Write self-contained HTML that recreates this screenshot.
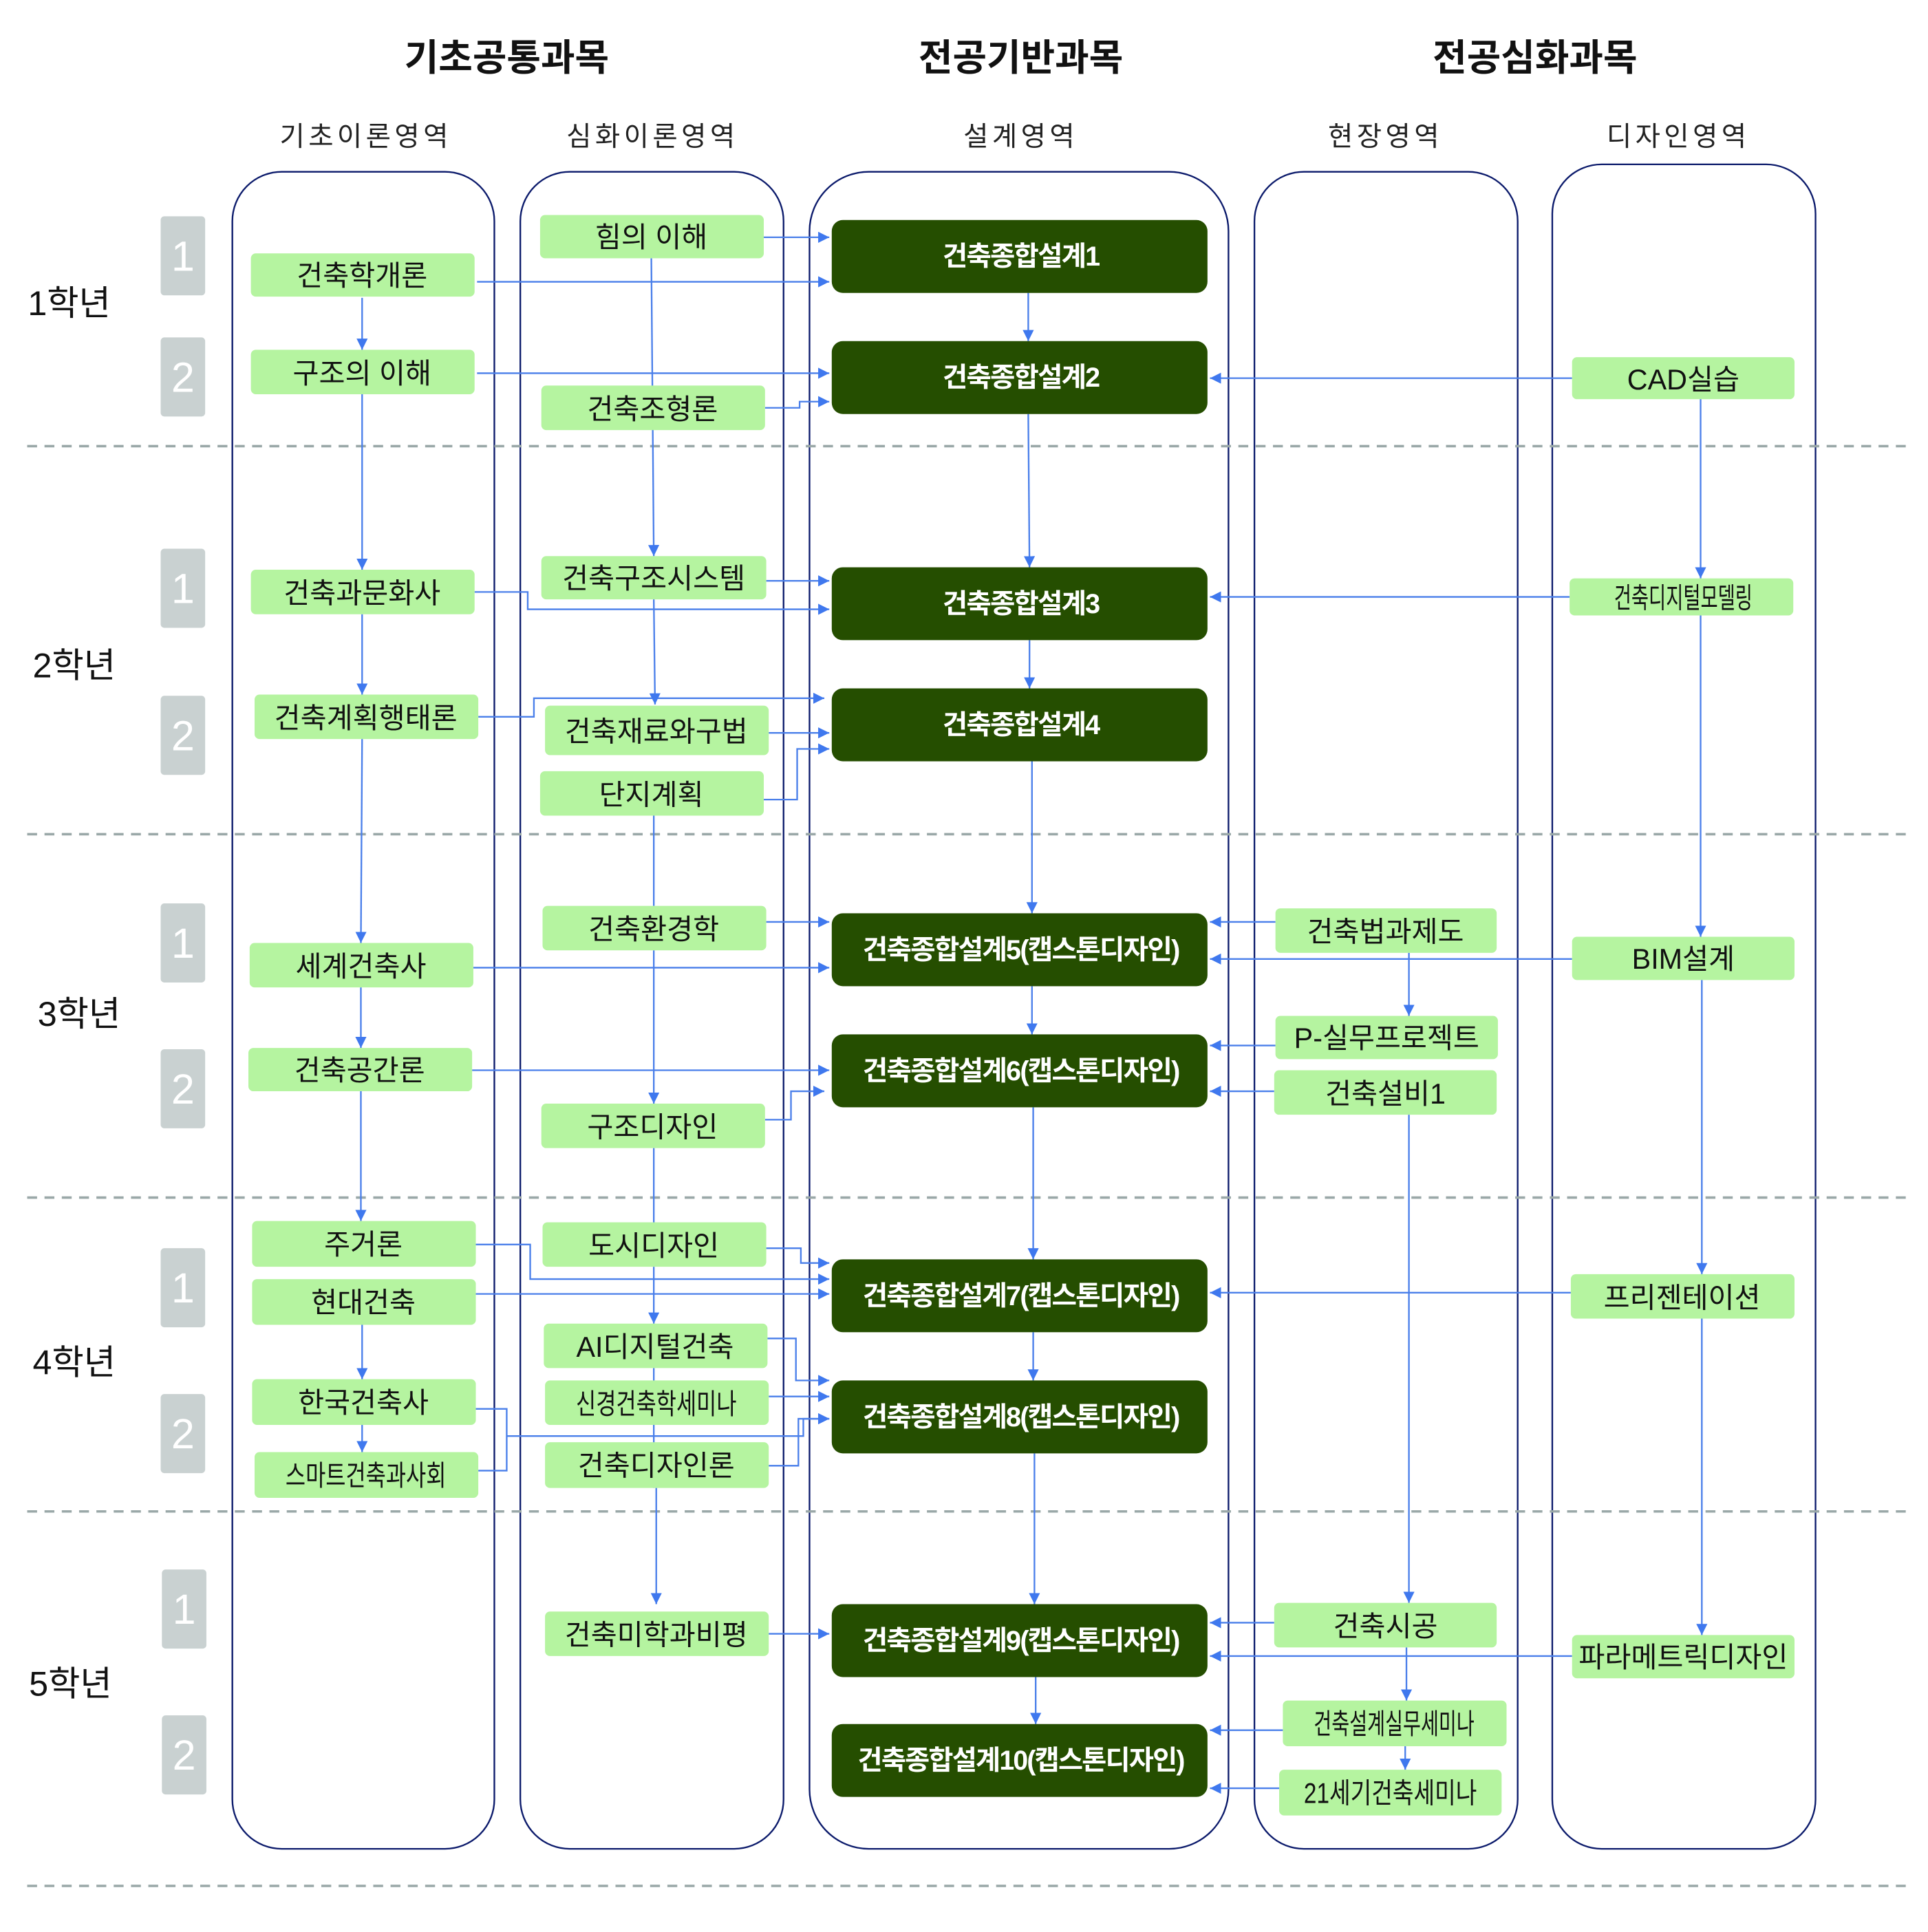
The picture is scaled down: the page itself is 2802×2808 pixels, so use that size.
<!DOCTYPE html>
<html><head><meta charset="utf-8"><style>
html,body{margin:0;padding:0;background:#fff}
svg{display:block}
text{font-family:"Liberation Sans","Noto Sans CJK KR",sans-serif}
.h{font-size:30px;font-weight:bold;fill:#111}
.s{font-size:22px;fill:#222;letter-spacing:3px}
.y{font-size:28px;fill:#111}
.n{font-size:34px;fill:#fff}
.g{fill:#b5f4a0}
.gt{font-size:23px;fill:#111;letter-spacing:0px}
.d{fill:#254e00}
.dt{font-size:22px;fill:#fff;font-weight:bold;letter-spacing:-1px}
.c{fill:none;stroke:#0b1a6b;stroke-width:1.3}
.a{fill:none;stroke:#4a7fea;stroke-width:1.3}
.dash{stroke:#9aa8a8;stroke-width:2;stroke-dasharray:8,6}
.sem{fill:#c9d1d1}
</style></head><body>
<svg width="2802" height="2808" viewBox="0 0 1560 1563.3" preserveAspectRatio="none" xmlns="http://www.w3.org/2000/svg">
<defs><marker id="m" viewBox="0 0 10 10" refX="10" refY="5" markerWidth="9" markerHeight="9" markerUnits="userSpaceOnUse" orient="auto"><path d="M0,0L10,5L0,10z" fill="#3f78ee"/></marker></defs>
<text class="h" x="410" y="57" text-anchor="middle">기초공통과목</text>
<text class="h" x="826" y="57" text-anchor="middle">전공기반과목</text>
<text class="h" x="1242" y="57" text-anchor="middle">전공심화과목</text>
<g text-anchor="middle"><text class="s" x="296" y="118">기초이론영역</text><text class="s" x="528" y="118">심화이론영역</text><text class="s" x="826" y="118">설계영역</text><text class="s" x="1121" y="118">현장영역</text><text class="s" x="1358" y="118">디자인영역</text></g>
<rect class="c" x="188" y="139" width="212" height="1357" rx="40"/>
<rect class="c" x="421" y="139" width="213" height="1357" rx="40"/>
<rect class="c" x="655" y="139" width="339" height="1357" rx="48"/>
<rect class="c" x="1015" y="139" width="213" height="1357" rx="40"/>
<rect class="c" x="1256" y="133" width="213" height="1363" rx="40"/>
<g class="dash"><line x1="22" y1="361" x2="1545" y2="361"/><line x1="22" y1="675" x2="1545" y2="675"/><line x1="22" y1="969" x2="1545" y2="969"/><line x1="22" y1="1223" x2="1545" y2="1223"/><line x1="22" y1="1526" x2="1545" y2="1526"/></g>
<g text-anchor="middle"><text class="y" x="56" y="255">1학년</text><text class="y" x="60" y="548">2학년</text><text class="y" x="64" y="830">3학년</text><text class="y" x="60" y="1112">4학년</text><text class="y" x="57" y="1372">5학년</text></g>
<g><rect class="sem" x="130" y="175" width="36" height="64" rx="3"/><rect class="sem" x="130" y="273" width="36" height="64" rx="3"/><rect class="sem" x="130" y="444" width="36" height="64" rx="3"/><rect class="sem" x="130" y="563" width="36" height="64" rx="3"/><rect class="sem" x="130" y="731" width="36" height="64" rx="3"/><rect class="sem" x="130" y="849" width="36" height="64" rx="3"/><rect class="sem" x="130" y="1010" width="36" height="64" rx="3"/><rect class="sem" x="130" y="1128" width="36" height="64" rx="3"/><rect class="sem" x="131" y="1270" width="36" height="64" rx="3"/><rect class="sem" x="131" y="1388" width="36" height="64" rx="3"/></g>
<g text-anchor="middle"><text class="n" x="148" y="219">1</text><text class="n" x="148" y="317">2</text><text class="n" x="148" y="488">1</text><text class="n" x="148" y="607">2</text><text class="n" x="148" y="775">1</text><text class="n" x="148" y="893">2</text><text class="n" x="148" y="1054">1</text><text class="n" x="148" y="1172">2</text><text class="n" x="149" y="1314">1</text><text class="n" x="149" y="1432">2</text></g>
<g class="a" marker-end="url(#m)">
<path d="M293 241V283"/><path d="M293 319V461"/><path d="M293 497V562"/><path d="M293 598L292 763"/><path d="M292 799V848"/><path d="M292 883V988"/><path d="M293 1072V1116"/><path d="M293 1153V1175"/>
<path d="M386 228H671"/><path d="M386 302H671"/><path d="M384 479H427V493H671"/><path d="M387 580H432V565H667"/><path d="M383 783H671"/><path d="M382 866H671"/><path d="M385 1007H429V1035H671"/><path d="M385 1047H671"/><path d="M410 1162H650V1148H671"/>
<path d="M527 209L529 450"/><path d="M529 485L530 570"/><path d="M529 769V893"/><path d="M529 1025V1071"/><path d="M531 1204V1298"/>
<path d="M618 192H671"/><path d="M619 330H647V325H671"/><path d="M620 470H671"/><path d="M622 593H671"/><path d="M618 647H645V606H671"/><path d="M620 746H671"/><path d="M619 906H640V883H667"/><path d="M620 1010H648V1022H671"/><path d="M621 1083H644V1117H671"/><path d="M622 1130H671"/><path d="M622 1186H646V1148H671"/><path d="M622 1322H671"/>
<path d="M832 237V276"/><path d="M832 335L833 459"/><path d="M833 518V557"/><path d="M835 616V739"/><path d="M835 798V837"/><path d="M836 896V1019"/><path d="M836 1078V1117"/><path d="M837 1176V1298"/><path d="M838 1357V1395"/>
<path d="M1032 746H979"/><path d="M1272 776H979"/><path d="M1032 846H979"/><path d="M1031 883H979"/><path d="M1272 306H979"/><path d="M1270 483H979"/><path d="M1271 1046H979"/><path d="M1031 1313H979"/><path d="M1272 1340H979"/><path d="M1038 1400H979"/><path d="M1035 1447H979"/>
<path d="M1140 771V822"/><path d="M1140 902V1297"/><path d="M1138 1333V1376"/><path d="M1137 1413V1432"/>
<path d="M1376 323V468"/><path d="M1376 498V758"/><path d="M1377 793V1031"/><path d="M1377 1067V1323"/>
</g>
<g class="a"><path d="M529 660V733"/><path d="M529 929V989"/><path d="M529 1107V1204"/><path d="M385 1140H410V1190H387"/></g>
<g class="g">
<rect x="203" y="205" width="181" height="35" rx="4"/><rect x="203" y="283" width="181" height="36" rx="4"/><rect x="203" y="461" width="181" height="36" rx="4"/><rect x="206" y="562" width="181" height="36" rx="4"/><rect x="202" y="763" width="181" height="36" rx="4"/><rect x="201" y="848" width="181" height="35" rx="4"/><rect x="204" y="988" width="181" height="37" rx="4"/><rect x="204" y="1035" width="181" height="37" rx="4"/><rect x="204" y="1116" width="181" height="37" rx="4"/><rect x="206" y="1175" width="181" height="37" rx="4"/>
<rect x="437" y="174" width="181" height="35" rx="4"/><rect x="438" y="312" width="181" height="36" rx="4"/><rect x="438" y="450" width="182" height="35" rx="4"/><rect x="441" y="571" width="181" height="40" rx="4"/><rect x="437" y="624" width="181" height="36" rx="4"/><rect x="439" y="733" width="181" height="36" rx="4"/><rect x="438" y="893" width="181" height="36" rx="4"/><rect x="439" y="989" width="181" height="36" rx="4"/><rect x="440" y="1071" width="181" height="36" rx="4"/><rect x="441" y="1117" width="181" height="36" rx="4"/><rect x="441" y="1167" width="181" height="37" rx="4"/><rect x="441" y="1304" width="181" height="36" rx="4"/>
<rect x="1032" y="735" width="179" height="36" rx="4"/><rect x="1032" y="822" width="180" height="35" rx="4"/><rect x="1031" y="866" width="180" height="36" rx="4"/><rect x="1031" y="1297" width="180" height="36" rx="4"/><rect x="1038" y="1376" width="181" height="37" rx="4"/><rect x="1035" y="1432" width="180" height="37" rx="4"/>
<rect x="1272" y="289" width="180" height="34" rx="4"/><rect x="1270" y="468" width="181" height="30" rx="4"/><rect x="1272" y="758" width="180" height="35" rx="4"/><rect x="1271" y="1031" width="181" height="36" rx="4"/><rect x="1272" y="1323" width="180" height="35" rx="4"/>
</g>
<g text-anchor="middle" class="gt">
<text x="293" y="231">건축학개론</text><text x="293" y="310">구조의 이해</text><text x="293" y="488">건축과문화사</text><text x="296" y="589">건축계획행태론</text><text x="292" y="790">세계건축사</text><text x="291" y="874">건축공간론</text><text x="294" y="1015">주거론</text><text x="294" y="1062">현대건축</text><text x="294" y="1143">한국건축사</text><text x="296" y="1202" textLength="130" lengthAdjust="spacingAndGlyphs">스마트건축과사회</text>
<text x="527" y="200">힘의 이해</text><text x="528" y="339">건축조형론</text><text x="529" y="476">건축구조시스템</text><text x="531" y="600">건축재료와구법</text><text x="527" y="651">단지계획</text><text x="529" y="760">건축환경학</text><text x="528" y="920">구조디자인</text><text x="529" y="1016">도시디자인</text><text x="530" y="1098">AI디지털건축</text><text x="531" y="1144" textLength="130" lengthAdjust="spacingAndGlyphs">신경건축학세미나</text><text x="531" y="1194">건축디자인론</text><text x="531" y="1331">건축미학과비평</text>
<text x="1121" y="762">건축법과제도</text><text x="1122" y="848">P-실무프로젝트</text><text x="1121" y="893">건축설비1</text><text x="1121" y="1324">건축시공</text><text x="1128" y="1403" textLength="130" lengthAdjust="spacingAndGlyphs">건축설계실무세미나</text><text x="1125" y="1459" textLength="140" lengthAdjust="spacingAndGlyphs">21세기건축세미나</text>
<text x="1362" y="315">CAD실습</text><text x="1362" y="492" textLength="112" lengthAdjust="spacingAndGlyphs">건축디지털모델링</text><text x="1362" y="784">BIM설계</text><text x="1361" y="1058">프리젠테이션</text><text x="1362" y="1349">파라메트릭디자인</text>
</g>
<g class="d">
<rect x="673" y="178" width="304" height="59" rx="9"/><rect x="673" y="276" width="304" height="59" rx="9"/><rect x="673" y="459" width="304" height="59" rx="9"/><rect x="673" y="557" width="304" height="59" rx="9"/><rect x="673" y="739" width="304" height="59" rx="9"/><rect x="673" y="837" width="304" height="59" rx="9"/><rect x="673" y="1019" width="304" height="59" rx="9"/><rect x="673" y="1117" width="304" height="59" rx="9"/><rect x="673" y="1298" width="304" height="59" rx="9"/><rect x="673" y="1395" width="304" height="59" rx="9"/>
</g>
<g text-anchor="middle" class="dt">
<text x="826" y="215">건축종합설계1</text><text x="826" y="313">건축종합설계2</text><text x="826" y="496">건축종합설계3</text><text x="826" y="594">건축종합설계4</text>
<text x="826" y="776" textLength="256" lengthAdjust="spacingAndGlyphs">건축종합설계5(캡스톤디자인)</text><text x="826" y="874" textLength="256" lengthAdjust="spacingAndGlyphs">건축종합설계6(캡스톤디자인)</text><text x="826" y="1056" textLength="256" lengthAdjust="spacingAndGlyphs">건축종합설계7(캡스톤디자인)</text><text x="826" y="1154" textLength="256" lengthAdjust="spacingAndGlyphs">건축종합설계8(캡스톤디자인)</text><text x="826" y="1335" textLength="256" lengthAdjust="spacingAndGlyphs">건축종합설계9(캡스톤디자인)</text><text x="826" y="1432" textLength="264" lengthAdjust="spacingAndGlyphs">건축종합설계10(캡스톤디자인)</text>
</g>
</svg>
</body></html>
